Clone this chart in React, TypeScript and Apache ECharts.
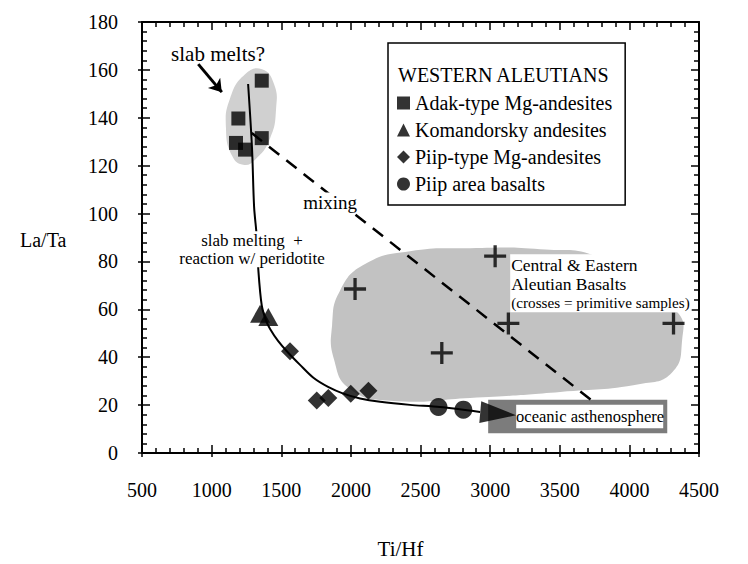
import React, { useEffect, useRef } from "react";
import * as echarts from "echarts";

// ---- Axes ----
const X_MIN = 500;
const X_MAX = 4500;
const X_STEP = 500;
const Y_MIN = 0;
const Y_MAX = 180;
const Y_STEP = 20;

// ---- Series (Ti/Hf, La/Ta) ----
const adakMgAndesites = [
  [1175, 129.5],
  [1240, 126.7],
  [1192, 139.7],
  [1360, 131.5],
  [1360, 155.5],
];
const komandorskyAndesites = [
  [1348, 58.2],
  [1407, 56.8],
];
const piipMgAndesites = [
  [1563, 42.5],
  [1755, 21.9],
  [1838, 23.0],
  [1999, 24.7],
  [2126, 26.0],
];
const piipAreaBasalts = [
  [2629, 19.2],
  [2808, 18.1],
];
const centralEasternBasalts = [
  [2030, 68.5],
  [2653, 41.8],
  [3036, 82.2],
  [3131, 54.1],
  [4317, 54.1],
];

// ---- Trend lines ----
const slabMeltingCurve = [
  [1262, 154.1], [1290, 127.4], [1305, 102.8], [1324, 90.4], [1336, 76.0], [1360, 61.6],
  [1391, 55.3], [1420, 51.8], [1477, 46.8], [1540, 42.5], [1635, 36.8], [1731, 31.4],
  [1836, 27.6], [1946, 24.8], [2066, 22.8], [2210, 21.4], [2425, 20.1], [2641, 19.2],
  [2928, 17.1],
];
const curveArrowHead = [[3058, 16.4]];
const mixingLine = [
  [1288, 133.6],
  [3731, 21.9],
];
const slabMeltsPointer = [
  [904, 162.4],
  [1073, 150.7],
];

// ---- Fields ----
const slabMeltField = [
  [1362, 160.3], [1448, 154.1], [1463, 143.9], [1420, 131.5], [1312, 122.5],
  [1226, 120.4], [1147, 124.1], [1103, 135.6], [1132, 148.0], [1240, 158.2],
];
const basaltField = [
  [1865, 53.4], [1922, 67.8], [2102, 78.9], [2425, 84.3], [2856, 85.5], [3359, 85.1],
  [3790, 81.4], [4114, 65.8], [4351, 58.4], [4379, 47.3], [4308, 33.7], [4078, 28.8],
  [3503, 25.5], [2856, 23.0], [2282, 21.8], [1994, 26.7], [1879, 39.0],
];
const oceanicBoxOuter = [[2986, 22.2], [4272, 8.2]];
const oceanicBoxInner = [[3187, 20.1], [4243, 10.3]];

// ---- Texts ----
const xAxisName = "Ti/Hf";
const yAxisName = "La/Ta";
const legendTitle = "WESTERN ALEUTIANS";
const seriesNames = [
  "Adak-type Mg-andesites",
  "Komandorsky andesites",
  "Piip-type Mg-andesites",
  "Piip area basalts",
];
const noteSlabMelts = { text: "slab melts?", at: [1046, 166.5] };
const noteMixing = { text: "mixing", at: [1851, 104.8] };
const noteSlabMelting = { text: "slab melting  +\nreaction w/ peridotite", at: [1290, 85.1] };
const noteBasalts = {
  lines: ["Central & Eastern", "Aleutian Basalts", "(crosses = primitive samples)"],
  at: [3144, 83.0],
};
const noteOcean = { text: "oceanic asthenosphere", at: [3718, 15.2] };

const FONT = "Liberation Serif";
const PLUS = "path://M8.5,0H11.5V8.5H20V11.5H11.5V20H8.5V11.5H0V8.5H8.5Z";

export default function App() {
  const ref = useRef<HTMLDivElement>(null);

  useEffect(() => {
    document.body.style.margin = "0";
    if (!ref.current) return;
    const chart = echarts.init(ref.current, undefined, { renderer: "svg" });

    const rectFrom = (api: any, box: number[][]) => {
      const a = api.coord(box[0]);
      const b = api.coord(box[1]);
      return {
        x: Math.min(a[0], b[0]),
        y: Math.min(a[1], b[1]),
        width: Math.abs(b[0] - a[0]),
        height: Math.abs(b[1] - a[1]),
      };
    };

    const tickStyle = { color: "#000", width: 1.5 };
    const baseX = {
      type: "value",
      min: X_MIN,
      max: X_MAX,
      interval: X_STEP,
      splitLine: { show: false },
      axisLine: { show: true, onZero: false, lineStyle: { color: "#000", width: 2 } },
      axisTick: { show: true, inside: true, length: 8, lineStyle: tickStyle },
      minorTick: { show: true, splitNumber: 5, length: 5, lineStyle: tickStyle },
    };
    const baseY = {
      type: "value",
      min: Y_MIN,
      max: Y_MAX,
      interval: Y_STEP,
      splitLine: { show: false },
      axisLine: { show: true, onZero: false, lineStyle: { color: "#000", width: 2 } },
      axisTick: { show: true, inside: true, length: 8, lineStyle: tickStyle },
      minorTick: { show: true, splitNumber: 5, length: 5, lineStyle: tickStyle },
    };
    const outerTicks = {
      axisLine: { show: false },
      axisTick: { show: true, inside: false, length: 4, lineStyle: tickStyle },
      minorTick: { show: false },
      axisLabel: { show: false },
    };

    const option: any = {
      animation: false,
      backgroundColor: "#fff",
      textStyle: { fontFamily: FONT, color: "#000" },
      grid: { left: 142, right: 49, top: 22, bottom: 104 },
      title: {
        text: legendTitle,
        left: 398,
        top: 65,
        padding: 0,
        z: 8,
        textStyle: { fontFamily: FONT, fontSize: 20, fontWeight: "normal", color: "#000" },
      },
      graphic: [
        {
          type: "text",
          left: 20,
          top: 230,
          style: { text: yAxisName, fontFamily: FONT, fontSize: 20, fill: "#000" },
        },
      ],
      legend: {
        data: seriesNames,
        orient: "vertical",
        left: 388,
        top: 43,
        padding: [50, 13, 11, 9],
        itemGap: 7,
        itemWidth: 13,
        itemHeight: 13,
        borderColor: "#000",
        borderWidth: 1.5,
        backgroundColor: "#fff",
        z: 6,
        textStyle: { fontFamily: FONT, fontSize: 20, color: "#000" },
      },
      xAxis: [
        {
          ...baseX,
          position: "bottom",
          name: xAxisName,
          nameLocation: "middle",
          nameGap: 85,
          nameTextStyle: { fontFamily: FONT, fontSize: 21, color: "#000", padding: [0, 40, 0, 0] },
          axisLabel: {
            fontFamily: FONT,
            fontSize: 20,
            color: "#000",
            margin: 27,
            formatter: (v: number) => String(v),
          },
        },
        { ...baseX, position: "top", axisLabel: { show: false } },
        { ...baseX, position: "bottom", ...outerTicks },
      ],
      yAxis: [
        {
          ...baseY,
          position: "left",
          axisLabel: { fontFamily: FONT, fontSize: 20, color: "#000", margin: 24 },
        },
        { ...baseY, position: "right", axisLabel: { show: false } },
        { ...baseY, position: "left", ...outerTicks },
      ],
      series: [
        {
          type: "custom",
          name: "fields",
          z: 1,
          silent: true,
          data: [[X_MIN, Y_MIN]],
          renderItem: (_p: any, api: any) => ({
            type: "group",
            children: [
              {
                type: "polygon",
                shape: { points: slabMeltField.map((p) => api.coord(p)), smooth: 0.5 },
                style: { fill: "#d0d0d0" },
              },
              {
                type: "polygon",
                shape: { points: basaltField.map((p) => api.coord(p)), smooth: 0.5 },
                style: { fill: "#c2c2c2" },
              },
              { type: "rect", shape: rectFrom(api, oceanicBoxOuter), style: { fill: "#7c7c7c" } },
              { type: "rect", shape: rectFrom(api, oceanicBoxInner), style: { fill: "#fff" } },
            ],
          }),
        },
        {
          type: "line",
          name: "slab melting curve",
          data: slabMeltingCurve,
          smooth: 0.3,
          symbol: "none",
          z: 2,
          lineStyle: { color: "#000", width: 2 },
        },
        {
          type: "line",
          name: "mixing",
          data: mixingLine,
          symbol: "none",
          z: 2,
          lineStyle: { color: "#000", width: 2.5, type: [13, 9] },
        },
        {
          type: "lines",
          name: "pointer",
          coordinateSystem: "cartesian2d",
          z: 3,
          symbol: ["none", "arrow"],
          symbolSize: 12,
          lineStyle: { color: "#000", width: 3, opacity: 1 },
          data: [{ coords: slabMeltsPointer }],
        },
        {
          type: "scatter",
          name: "arrow head",
          data: curveArrowHead,
          symbol: "triangle",
          symbolSize: [22, 36],
          symbolRotate: -95,
          z: 4,
          itemStyle: { color: "#000" },
        },
        {
          type: "scatter",
          name: "Central & Eastern Aleutian Basalts",
          data: centralEasternBasalts,
          symbol: PLUS,
          symbolSize: 22,
          z: 4,
          itemStyle: { color: "#000" },
        },
        {
          type: "scatter",
          name: seriesNames[0],
          data: adakMgAndesites,
          symbol: "rect",
          symbolSize: 14,
          z: 4,
          itemStyle: { color: "#000" },
        },
        {
          type: "scatter",
          name: seriesNames[1],
          data: komandorskyAndesites,
          symbol: "triangle",
          symbolSize: [20, 18],
          z: 4,
          itemStyle: { color: "#000" },
        },
        {
          type: "scatter",
          name: seriesNames[2],
          data: piipMgAndesites,
          symbol: "diamond",
          symbolSize: 18,
          z: 4,
          itemStyle: { color: "#000" },
        },
        {
          type: "scatter",
          name: seriesNames[3],
          data: piipAreaBasalts,
          symbol: "circle",
          symbolSize: 18,
          z: 4,
          itemStyle: { color: "#000" },
        },
        {
          type: "custom",
          name: "notes",
          z: 5,
          silent: true,
          data: [[X_MIN, Y_MIN]],
          renderItem: (_p: any, api: any) => {
            const c1 = api.coord(noteSlabMelts.at);
            const c2 = api.coord(noteMixing.at);
            const c3 = api.coord(noteSlabMelting.at);
            const c4 = api.coord(noteBasalts.at);
            const c5 = api.coord(noteOcean.at);
            return {
              type: "group",
              children: [
                {
                  type: "text",
                  x: c1[0],
                  y: c1[1],
                  style: {
                    text: noteSlabMelts.text,
                    fontFamily: FONT,
                    fontSize: 21,
                    fill: "#000",
                    align: "center",
                    verticalAlign: "middle",
                  },
                },
                {
                  type: "text",
                  x: c2[0],
                  y: c2[1],
                  style: {
                    text: noteMixing.text,
                    fontFamily: FONT,
                    fontSize: 19,
                    fill: "#000",
                    align: "center",
                    verticalAlign: "middle",
                    backgroundColor: "#fff",
                  },
                },
                {
                  type: "text",
                  x: c3[0],
                  y: c3[1],
                  style: {
                    text: noteSlabMelting.text,
                    fontFamily: FONT,
                    fontSize: 17,
                    lineHeight: 18,
                    fill: "#000",
                    align: "center",
                    verticalAlign: "middle",
                    backgroundColor: "#fff",
                  },
                },
                {
                  type: "text",
                  x: c4[0],
                  y: c4[1],
                  style: {
                    text: `{a|${noteBasalts.lines[0]}}\n{a|${noteBasalts.lines[1]}}\n{b|${noteBasalts.lines[2]}}`,
                    fill: "#000",
                    align: "left",
                    verticalAlign: "top",
                    backgroundColor: "#fff",
                    padding: [1, 2, 1, 1],
                    rich: {
                      a: { fontFamily: FONT, fontSize: 17.5, lineHeight: 19, fill: "#000" },
                      b: { fontFamily: FONT, fontSize: 15.2, lineHeight: 18, fill: "#000" },
                    },
                  },
                },
                {
                  type: "text",
                  x: c5[0],
                  y: c5[1],
                  style: {
                    text: noteOcean.text,
                    fontFamily: FONT,
                    fontSize: 16.5,
                    fill: "#000",
                    align: "center",
                    verticalAlign: "middle",
                  },
                },
              ],
            };
          },
        },
      ],
    };

    chart.setOption(option);
    return () => chart.dispose();
  }, []);

  return <div ref={ref} style={{ width: 748, height: 564 }} />;
}
